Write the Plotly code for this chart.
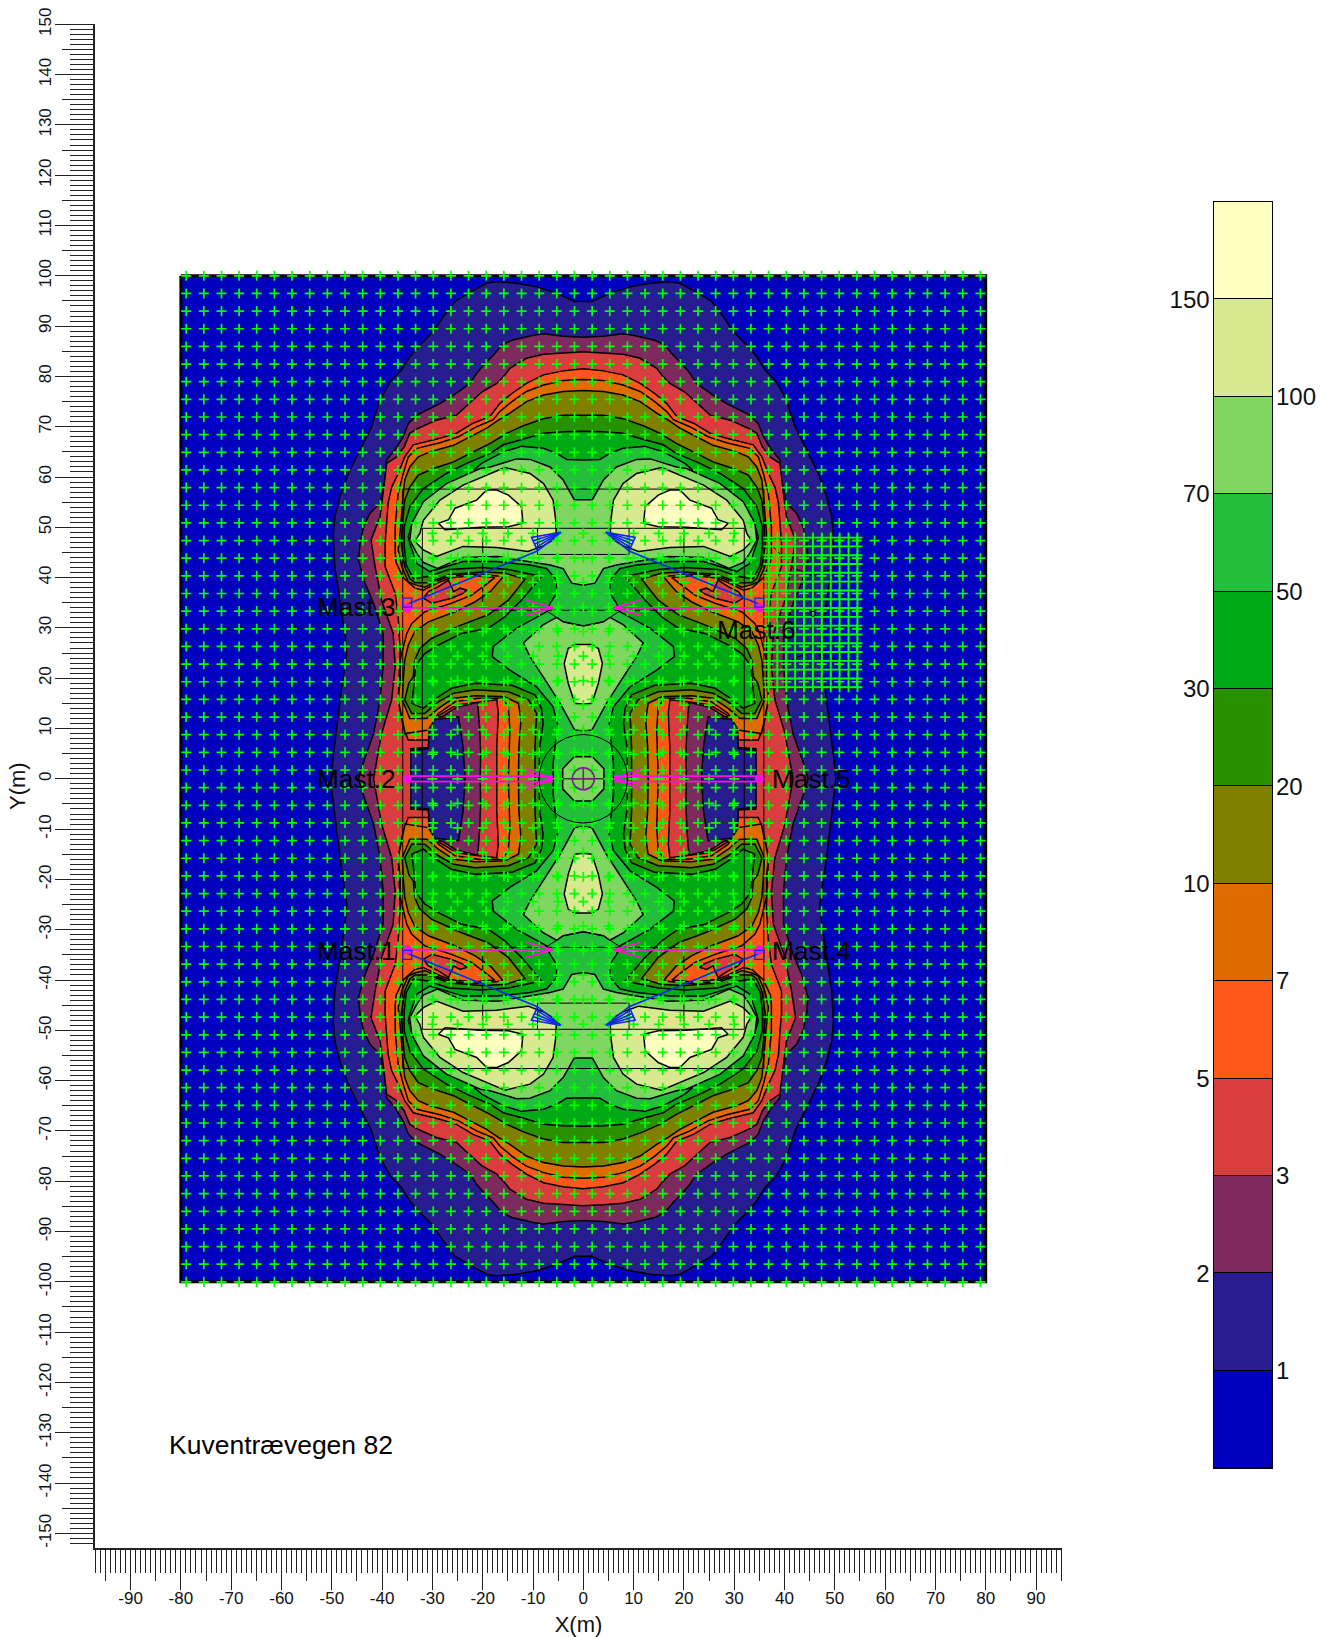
import numpy as np
import plotly.graph_objects as go

FONT = "Liberation Sans"
# colour bands, low to high
band_colors = ["#0000BE", "#281C91", "#7F2A5F", "#D93D3D", "#FF5819", "#DE6C00", "#7F7F00",
               "#299000", "#00AA14", "#23BF3A", "#7FD660", "#D9E990", "#FFFFC0"]
band_sizes = [1] * 13
left_labels = ["2", "5", "10", "30", "70", "150"]
left_pos = [2, 4, 6, 8, 10, 12]
right_labels = ["1", "3", "7", "20", "50", "100"]
right_pos = [1, 3, 5, 7, 9, 11]

# level outlines, upper-left quarter, from the top of the centre line to the y=0 line (metres)
L1_x = [0, -1.7, -5.3, -9.3, -13.3, -17.2, -19.2, -22.9, -25.5, -27.8, -29.8, -32.5, -34.5, -36.1, -38.4, -40.4, -42.1, -44.4, -46.7, -48.4, -49.4, -49.7, -49.4, -48.3, -47.4, -47, -48, -49, -50, -50.2]
L1_y = [94.9, 94.9, 96.5, 97.8, 98.5, 98.8, 98.5, 96.5, 94.9, 91.9, 88.9, 86.2, 83.9, 81.3, 78.9, 75.3, 70, 65.4, 60.7, 56.1, 52.1, 48.4, 42.2, 35, 28.9, 25, 18.3, 10.4, 2.4, 0]
L2_x = [0, -4, -7.9, -9.9, -14.2, -16.2, -17.9, -19.5, -21.2, -22.5, -25.8, -28.5, -33.1, -34.8, -35.8, -37.4, -39.1, -39.4, -39.8, -40.4, -42.4, -43.7, -44.4, -44.7, -43.4, -41.7, -39.8, -39.8, -40.4, -41.7, -44, -44.7]
L2_y = [87.8, 88, 88.5, 88.2, 87.2, 86.2, 84.2, 82.6, 80.6, 78.6, 76.3, 74.6, 72.3, 70.6, 68, 65.4, 63.4, 59.4, 57.4, 54.8, 52.8, 50.1, 46.5, 43.5, 38.9, 34.9, 28.9, 22.3, 15.7, 9, 2.4, 0]
L3_x = [0, -4, -7.9, -11.3, -14.6, -15.6, -17.2, -20.2, -23.5, -25.2, -29.2, -32.8, -34.5, -35.6, -37.1, -39.1, -39.4, -39.8, -40.4, -42.2, -41.4, -40.1, -37.8, -37.4, -38.1, -40.1, -41.7]
L3_y = [84.9, 84.7, 84.4, 83.6, 81.6, 80.3, 78.6, 76.9, 73.9, 72.3, 71.3, 69.7, 68.7, 66, 64, 62.7, 60, 56.7, 52.1, 47.5, 42.2, 35.5, 28.9, 22.3, 15.7, 9, 0]
L5_x = [0, -4, -7.9, -11.3, -14.2, -16.6, -18.6, -21.9, -25.2, -28.5, -33.8, -35.5, -36.8, -38.1, -38.8, -39.1, -39.4, -39.4, -37.4, -36.8, -36.4, -36.8, -35.8, -34.8, -30.8, -30.5, -28.5, -25.2, -20.9, -17.2, -16.9, -17.2, -17.2]
L5_y = [81.5, 81.1, 80.3, 78.6, 76.6, 74.6, 72, 70.7, 68.7, 67.7, 66.4, 64, 60.7, 58, 54.8, 50.1, 46.8, 42.2, 36.9, 32.2, 25.6, 15.7, 10.4, 7.7, 7.7, 11.7, 12.7, 14.7, 15.3, 15.7, 13, 6.4, 0]
L7_x = [0, -4, -7.9, -11.3, -14.2, -16.6, -17.9, -21.2, -24.8, -28.5, -33.1, -34.8, -35.8, -36.8, -37.4, -37.4, -37.2, -35.8, -33.5, -31.8, -28.8, -26.5, -21.9, -17.6, -19.5, -22.2, -26.2, -31.5, -34.1, -35.1, -36.4, -36.4, -36.8, -35.8, -35.4, -30.8, -28.8, -25.5, -20.9, -16.2, -14.9, -14.6, -14.9]
L7_y = [79.4, 79.2, 78.3, 77, 75, 73, 71.4, 70, 68, 66.8, 65.7, 64, 60.7, 56.7, 50.1, 45, 43, 40, 37.9, 37.5, 39, 39.9, 40.4, 40, 38.5, 36.5, 34.9, 33.2, 30.9, 28.9, 23.6, 19.6, 15.7, 10.7, 9, 9.7, 13, 15.3, 16, 16, 14.3, 9.7, 0]
L10_x = [0, -4, -7.9, -11.3, -14.6, -16.9, -19.2, -22.5, -25.8, -30.5, -32.8, -34.5, -35.5, -35.9, -36.3, -36.8, -36.1, -34.8, -33.5, -31.5, -28.8, -26.5, -21.9, -15.9, -18.5, -21.5, -25.5, -30.8, -33.5, -34.8, -35.5, -35.8, -36, -34.5, -31.1, -28.8, -25.8, -21.5, -15.6, -12.9, -12.4, -12.8, -12.9]
L10_y = [77.2, 77, 76.3, 75, 72.7, 71.3, 69.7, 68, 66.3, 65, 64, 62, 59.4, 55.4, 50.1, 45.5, 42.2, 39.2, 38.6, 38.1, 39.4, 40.3, 40.7, 40.2, 37.2, 35.2, 33.2, 31.2, 29.3, 26.6, 23.6, 19.6, 15.7, 12, 12, 14, 16, 16.5, 16.3, 15, 11.7, 6.4, 0]
L20_x = [0, -4, -7.9, -11.9, -15.2, -18.5, -22.5, -25.8, -29.8, -32.8, -34.5, -35.5, -35.9, -36.2, -35.5, -34.5, -33.5, -30.8, -26.5, -20.2, -15.6, -11.6, -14.9, -18.9, -24.2, -30.2, -32.5, -33.5, -33.8, -34.7, -35.5, -34.1, -31.5, -28.8, -25.8, -21.5, -14.9, -10.9, -9.3, -9.6, -9.6]
L20_y = [72.3, 72.3, 71.6, 70.2, 68.7, 66.7, 64.7, 63, 61.7, 60.4, 58, 55.4, 51.4, 46.8, 42.2, 39.8, 39, 39, 40.6, 41.1, 40.9, 39.7, 35.5, 32.6, 30.6, 27.9, 25.9, 23.6, 20.3, 19, 15.7, 13, 13, 15.3, 17, 17.7, 17.3, 15.7, 13, 6.4, 0]
L30_x = [0, -4, -7.9, -11.5, -15.9, -18.5, -23.2, -27.2, -31.8, -34.5, -35.6, -35.6, -35.2, -34.3, -33.8, -30.8, -26.8, -20.2, -14.9, -8.3, -12.3, -15.6, -18.9, -24.2, -28.8, -31.5, -32.6, -33.4, -33.6, -34.1, -31.8, -28.8, -26.2, -21.5, -14.2, -9.6, -8.3, -8, -8.7, -8.8]
L30_y = [69.1, 69, 68.7, 67.6, 66.4, 64.7, 62.7, 60.7, 57.7, 54.1, 50.1, 46.2, 42.5, 40.8, 39.8, 40.2, 41.6, 42, 41.6, 40.2, 35.5, 32.2, 29.9, 28.9, 26.6, 24.9, 23.5, 22, 19, 15, 14, 16.3, 18, 19, 18.6, 16.7, 14, 11, 6, 0]
L50_x = [0, -3.3, -5.3, -7.9, -12.3, -15.9, -20.2, -22.5, -27.2, -31.1, -33.8, -34.8, -34.5, -33.1, -30.5, -23.9, -17.2, -10.6, -7.3, -5.3, -5.3, -6.6, -7.3, -13.3, -17.9, -18.1, -14.6, -9.3, -6, -5, -5.5, -6, -6]
L50_y = [63.4, 63.5, 64.7, 65.7, 66.1, 65, 62.7, 60.7, 58.1, 55.4, 51.4, 48.1, 46.8, 42.8, 41.2, 43.2, 43.2, 42.5, 41.8, 39.5, 36.9, 34.9, 33.2, 29.9, 26.3, 24.3, 21.6, 18.3, 14.3, 10.4, 7.5, 3, 0]
# upper light-green lobe: left half from the notch at the top to the notch at the bottom
L70_top_x = [0, -1.8, -4, -6.6, -10.6, -13.3, -18.5, -20.5, -27.2, -31.8, -34.1, -34.5, -33.1, -31.8, -29, -24, -17, -10.6, -6.6, -4, -2.3, 0]
L70_top_y = [55.5, 55.5, 59.4, 62, 63.5, 63.6, 62, 61.7, 58.7, 55.1, 50.8, 47.5, 44.8, 43, 41.8, 44, 44.2, 43.2, 42.5, 41.8, 38.9, 38.5]
# diamond between mast rows: left half, top to bottom
L70_mid_x = [0, -4, -5.3, -8, -11.9, -10.6, -8, -4.6, -1.7, 0]
L70_mid_y = [30.4, 31.2, 32.1, 30.6, 27, 24.3, 20.3, 15, 9.7, 9.6]
L70_core_x = [-1.8, 1.8, 4.1, 4.1, 1.8, -1.8, -4.1, -4.1]
L70_core_y = [4.4, 4.4, 2, -2, -4.4, -4.4, -2, 2]
L100_x = [-15.6, -19.2, -23.9, -28.5, -31.8, -32.5, -33.5, -31.8, -29.2, -23.9, -17.2, -11, -8, -6, -5.4, -5.4, -6, -7.9, -10.6]
L100_y = [61.9, 60.4, 58.4, 55.4, 51.4, 48.8, 47.2, 45.5, 44.2, 46.2, 46, 45.2, 46.3, 47.5, 49, 50.8, 55.4, 58.7, 60.7]
L100_mid_x = [0, -1.7, -3, -3.8, -3, -1.7, 0]
L100_mid_y = [26.7, 26.7, 25.9, 22.9, 19, 15, 14.8]
L150_x = [-19.2, -17.2, -14.9, -12.3, -12, -14.9, -20.5, -25.8, -27.5, -28.8, -26.8, -25.5, -21.2]
L150_y = [57.4, 57.4, 56.4, 54.1, 50.8, 50.1, 50, 49.6, 49.5, 50.8, 51.5, 53.8, 55.4]
# low pockets beside the middle masts (half above y=0) and in the upper wedge
low3_x = [-34.3, -34.3, -30.8, -30.4, -28, -25.2, -21, -20.6, -20.4, -20.5]
low3_y = [0, 6, 6.2, 12, 12.4, 14.2, 15.2, 10, 5, 0]
low2_x = [-34.3, -34.3, -30.8, -30.5, -24.8, -23.9, -23.5]
low2_y = [0, 5.7, 6, 11.7, 12.3, 6.4, 0]
wedge5_x = [-31.8, -30.1, -26.2, -23.8, -23.2, -24.5, -25.8, -26.8, -28.8, -30.8]
wedge5_y = [35.9, 34.9, 35.9, 36.9, 37.5, 37.9, 37.2, 39.5, 38.2, 37.2]

# thin plan lines
rect_outer = (35.9, 57.6)
rect_inner = (32, 49.8)
rect_small_x, rect_small_y0, rect_small_y1 = 9.1, 44.6, 49.8
band_y, band_x = 33.5, 20
side_x0, side_x1, side_y0, side_y1 = 36.6, 54.5, 17.9, 47.8
arc_top_x = [-7.3, -4, 0, 4, 7.3]
arc_top_y = [33.4, 31.2, 30.4, 31.2, 33.4]
side_arc_x = [37.8, 41.8, 45.7, 49.7, 53]
side_arc_hi_y = [46.1, 41.8, 40.5, 41.8, 46.1]
side_arc_lo_y = [19.6, 23.9, 25.3, 23.9, 19.6]

masts = {"Mast.1": (-35, -34), "Mast.2": (-35, 0), "Mast.3": (-35, 34),
         "Mast.4": (35, -34), "Mast.5": (35, 0), "Mast.6": (35, 34)}
aim_magenta_tip = 6
fan_tip = (4.5, 49)
fan_a = (10.3, 48)
fan_b = (9.1, 45.3)

# calculation grids
grid_x = np.round(1.755 + 3.509 * np.arange(23), 2)
grid_y = np.round(100 - 3.509 * np.arange(58), 2)
fine_x = np.arange(-30, 31, 5.0)
fine_y = np.round(4.88 * np.arange(-10, 11), 2)
side_x = np.round(36.8 + 1.77 * np.arange(11), 2)
side_y = np.round(18.2 + 1.75 * np.arange(18), 2)

x_ticks = list(range(-90, 91, 10))
y_ticks = list(range(-150, 151, 10))
x_mid = [v for v in range(-95, 96, 10)]
y_mid = [v for v in range(-145, 146, 10)]

W, H = 1320, 1637
fig = go.Figure()


def poly(xs, ys, color):
    fig.add_trace(go.Scatter(x=xs, y=ys, mode="lines", fill="toself", fillcolor=color,
                             line=dict(color="black", width=1.5), hoverinfo="skip", showlegend=False))


def quad(xs, ys):
    left_x = list(xs) + list(xs)[::-1]
    left_y = list(ys) + [-v for v in ys][::-1]
    return left_x + [-v for v in left_x][::-1], left_y + left_y[::-1]


def half_x(xs, ys):
    return list(xs) + [-v for v in xs][::-1], list(ys) + list(ys)[::-1]


def half_y(xs, ys):
    return list(xs) + list(xs)[::-1], list(ys) + [-v for v in ys][::-1]


def lines(segments, color, width):
    xs, ys = [], []
    for sx, sy in segments:
        xs += list(sx) + [None]
        ys += list(sy) + [None]
    fig.add_trace(go.Scatter(x=xs, y=ys, mode="lines", line=dict(color=color, width=width),
                             hoverinfo="skip", showlegend=False))


def crosses(xs, ys, size=7.2, width=1.7):
    px, py = np.meshgrid(xs, ys)
    fig.add_trace(go.Scatter(x=px.ravel(), y=py.ravel(), mode="markers",
                             marker=dict(symbol="cross-thin", size=size, line=dict(color="#00FF00", width=width)),
                             hoverinfo="skip", showlegend=False))


# background of the calculation field
poly([-80, 80, 80, -80, -80], [100, 100, -100, -100, 100], band_colors[0])
fig.data[-1].line.width = 3
poly(*quad(L1_x, L1_y), band_colors[1])
poly(*quad(L2_x, L2_y), band_colors[2])
poly(*quad(L3_x, L3_y), band_colors[3])
for sx in (1, -1):
    px, py = half_y(low3_x, low3_y)
    poly([sx * v for v in px], py, band_colors[2])
    px, py = half_y(low2_x, low2_y)
    poly([sx * v for v in px], py, band_colors[1])
poly(*quad(L5_x, L5_y), band_colors[4])
poly(*quad(L7_x, L7_y), band_colors[5])
for sx in (1, -1):
    for sy in (1, -1):
        poly([sx * v for v in wedge5_x] + [sx * wedge5_x[0]], [sy * v for v in wedge5_y] + [sy * wedge5_y[0]], band_colors[3])
poly(*quad(L10_x, L10_y), band_colors[6])
poly(*quad(L20_x, L20_y), band_colors[7])
poly(*quad(L30_x, L30_y), band_colors[8])
poly(*quad(L50_x, L50_y), band_colors[9])
for sy in (1, -1):
    px, py = half_x(L70_top_x, L70_top_y)
    poly(px, [sy * v for v in py], band_colors[10])
    px, py = half_x(L70_mid_x, L70_mid_y)
    poly(px, [sy * v for v in py], band_colors[10])
    px, py = half_x(L100_mid_x, L100_mid_y)
    poly(px, [sy * v for v in py], band_colors[11])
poly(L70_core_x + L70_core_x[:1], L70_core_y + L70_core_y[:1], band_colors[10])
for sx in (1, -1):
    for sy in (1, -1):
        poly([sx * v for v in L100_x] + [sx * L100_x[0]], [sy * v for v in L100_y] + [sy * L100_y[0]], band_colors[11])
        poly([sx * v for v in L150_x] + [sx * L150_x[0]], [sy * v for v in L150_y] + [sy * L150_y[0]], band_colors[12])

# plan lines
ox, oy = rect_outer
ix, iy = rect_inner
seg = [([-ox, ox, ox, -ox, -ox], [oy, oy, -oy, -oy, oy]),
       ([-ix, ix, ix, -ix, -ix], [iy, iy, -iy, -iy, iy]),
       ([side_x0, side_x1, side_x1, side_x0, side_x0], [side_y1, side_y1, side_y0, side_y0, side_y1]),
       (side_arc_x, side_arc_hi_y), (side_arc_x, side_arc_lo_y),
       ([-6, 6], [0, 0])]
for sy in (1, -1):
    seg.append(([-band_x, band_x], [sy * band_y] * 2))
    for sx in (1, -1):
        seg.append(([sx * band_x] * 2, [sy * band_y, sy * iy]))
    seg.append(([-rect_small_x, -rect_small_x, rect_small_x, rect_small_x],
                [sy * rect_small_y1, sy * rect_small_y0, sy * rect_small_y0, sy * rect_small_y1]))
    seg.append((arc_top_x, [sy * v for v in arc_top_y]))
lines(seg, "black", 1)

# grid crosses
all_x = np.concatenate([-grid_x[::-1], grid_x])
crosses(all_x, grid_y)
crosses(fine_x, fine_y)
crosses(side_x, side_y, width=1.9)

# aiming lines
mag = []
blue = []
for name, (mx, my) in masts.items():
    s = 1 if mx < 0 else -1
    tip = -s * aim_magenta_tip
    if my == 0:
        mag += [([mx, tip], [0.55, 0.55]), ([mx, tip], [-0.55, -0.55])]
        for off in (-2, -1.1, 1.1, 2):
            mag.append(([tip - s * 5.4, tip], [off, 0]))
    else:
        mag.append(([mx, tip], [my, my]))
        for off in (-1.5, 1.5):
            mag.append(([tip - s * 5.4, tip], [my + off, my]))
        sy = 1 if my > 0 else -1
        tx, ty = -s * fan_tip[0], sy * fan_tip[1]
        ax, ay = -s * fan_a[0], sy * fan_a[1]
        bx, by = -s * fan_b[0], sy * fan_b[1]
        blue.append(([mx, bx], [my + sy * 0.7, by]))
        blue.append(([tx, ax, bx, tx], [ty, ay, by, ty]))
        for f in (0.25, 0.5, 0.75):
            blue.append(([tx, ax + f * (bx - ax)], [ty, ay + f * (by - ay)]))
lines(mag, "#FF10E0", 1.8)
lines(blue, "#0A28F0", 1.6)
mx_all = [v[0] for v in masts.values()]
my_all = [v[1] for v in masts.values()]
fig.add_trace(go.Scatter(x=mx_all, y=my_all, mode="markers", marker=dict(color="#FF10E0", size=9),
                         hoverinfo="skip", showlegend=False))
fig.add_trace(go.Scatter(x=[v for v, w in zip(mx_all, my_all) if w], y=[w * 1.03 for w in my_all if w], mode="markers",
                         marker=dict(symbol="square-open", color="#0A28F0", size=9, line=dict(width=1.3)),
                         hoverinfo="skip", showlegend=False))

# axis helpers so the second tick sets are drawn
fig.add_trace(go.Scatter(x=x_mid, y=[200] * len(x_mid), mode="lines", xaxis="x2", yaxis="y", showlegend=False, hoverinfo="skip"))
fig.add_trace(go.Scatter(x=[200] * len(y_mid), y=y_mid, mode="lines", xaxis="x", yaxis="y2", showlegend=False, hoverinfo="skip"))

# colour key
for c, v in zip(band_colors, band_sizes):
    fig.add_trace(go.Bar(x=["key"], y=[v], marker=dict(color=c, line=dict(color="black", width=1)), width=1,
                         xaxis="x3", yaxis="y3", showlegend=False, hoverinfo="skip"))
fig.add_trace(go.Scatter(x=["key"], y=[0], mode="markers", marker=dict(opacity=0), xaxis="x3", yaxis="y4",
                         showlegend=False, hoverinfo="skip"))

ann = []
for name, (mx, my) in masts.items():
    if name == "Mast.6":
        ann.append(dict(x=26.2, y=29.6, text=name, xanchor="left"))
    elif mx < 0:
        ann.append(dict(x=-36.9, y=my * 1.005, text=name, xanchor="right"))
    else:
        ann.append(dict(x=37.1, y=my * 1.005, text=name, xanchor="left"))
ann.append(dict(x=-82.7, y=-132.5, text="Kuventrævegen 82", xanchor="left", size=26.5))
for a in ann:
    size = a.pop("size", 26.2)
    a.update(xref="x", yref="y", yanchor="middle", showarrow=False, font=dict(family=FONT, size=size, color="black"))

xr = [(95 - 583.3) / 5.03, (1062 - 583.3) / 5.03]
yr = [(778.8 - 1548) / 5.03, 150]
x_dom = [95 / W, 1062 / W]
y_dom = [(H - 1548) / H, (H - 24.3) / H]
tick_col = "#222222"
axis_font = dict(family=FONT, size=17, color="#111111")

shapes = [
    dict(type="circle", xref="x", yref="y", x0=-8.8, x1=8.8, y0=-8.8, y1=8.8, line=dict(color="black", width=1)),
    dict(type="circle", xref="x", yref="y", x0=-2.2, x1=2.2, y0=-2.2, y1=2.2, line=dict(color="#7F1A8F", width=1.5)),
    dict(type="line", xref="x", yref="y", x0=-2.2, x1=2.2, y0=0, y1=0, line=dict(color="#7F1A8F", width=1.5)),
    dict(type="line", xref="x", yref="y", x0=0, x1=0, y0=-2.2, y1=2.2, line=dict(color="#7F1A8F", width=1.5)),
    dict(type="circle", xref="x", yref="y", x0=45.2, x1=46.2, y0=32.3, y1=33.3, line=dict(color="black", width=1)),
]

fig.update_layout(
    width=W, height=H, margin=dict(l=0, r=0, t=0, b=0), paper_bgcolor="white", plot_bgcolor="rgba(0,0,0,0)",
    barmode="stack", bargap=0, showlegend=False, annotations=ann, shapes=shapes,
    xaxis=dict(domain=x_dom, range=xr, anchor="y", showgrid=False, zeroline=False, showline=True, linecolor=tick_col, linewidth=1.5,
               tickmode="array", tickvals=x_ticks, ticktext=[str(v) for v in x_ticks], ticks="outside", ticklen=40, tickwidth=1.3, tickcolor=tick_col, tickfont=axis_font,
               ticklabelstandoff=-6,
               minor=dict(ticks="outside", dtick=1, tick0=0, ticklen=23, tickwidth=1.3, tickcolor=tick_col, showgrid=False),
               title=dict(text="X(m)", font=dict(family=FONT, size=22, color="#111111"), standoff=14), automargin=False),
    yaxis=dict(domain=y_dom, range=yr, anchor="x", showgrid=False, zeroline=False, showline=True, linecolor=tick_col, linewidth=1.5,
               tickmode="array", tickvals=y_ticks, ticktext=[str(v) for v in y_ticks], ticks="outside", ticklen=38, tickwidth=1.3, tickcolor=tick_col, tickfont=axis_font, tickangle=-90,
               ticklabelstandoff=-3,
               minor=dict(ticks="outside", dtick=1, tick0=0, ticklen=23, tickwidth=1.3, tickcolor=tick_col, showgrid=False),
               title=dict(text="Y(m)", font=dict(family=FONT, size=22, color="#111111"), standoff=5), automargin=False),
    xaxis2=dict(domain=x_dom, range=xr, anchor="y", overlaying="x", side="bottom", showgrid=False, zeroline=False,
                tickmode="array", tickvals=x_mid, ticktext=[""] * len(x_mid), ticks="outside", ticklen=32, tickwidth=1.3, tickcolor=tick_col),
    yaxis2=dict(domain=y_dom, range=yr, anchor="x", overlaying="y", side="left", showgrid=False, zeroline=False,
                tickmode="array", tickvals=y_mid, ticktext=[""] * len(y_mid), ticks="outside", ticklen=32, tickwidth=1.3, tickcolor=tick_col),
    xaxis3=dict(domain=[1213.5 / W, 1272 / W], anchor="y3", type="category", showticklabels=False, ticks="", showgrid=False, zeroline=False,
                showline=True, mirror=True, linecolor="black", linewidth=1.2),
    yaxis3=dict(domain=[(H - 1468) / H, (H - 201.7) / H], range=[0, 13], anchor="x3", side="left", showgrid=False, zeroline=False,
                showline=True, mirror=True, linecolor="black", linewidth=1.2, ticklabelstandoff=-2,
                tickmode="array", tickvals=left_pos, ticktext=left_labels, ticks="", tickfont=dict(family=FONT, size=24, color="#111111")),
    yaxis4=dict(domain=[(H - 1468) / H, (H - 201.7) / H], range=[0, 13], anchor="x3", overlaying="y3", side="right", showgrid=False, zeroline=False,
                ticklabelstandoff=3,
                tickmode="array", tickvals=right_pos, ticktext=right_labels, ticks="", tickfont=dict(family=FONT, size=24, color="#111111")),
)
fig.write_html("out.html", config={"displayModeBar": False},
               post_script="document.body.style.margin='0';document.documentElement.style.overflow='hidden';")
